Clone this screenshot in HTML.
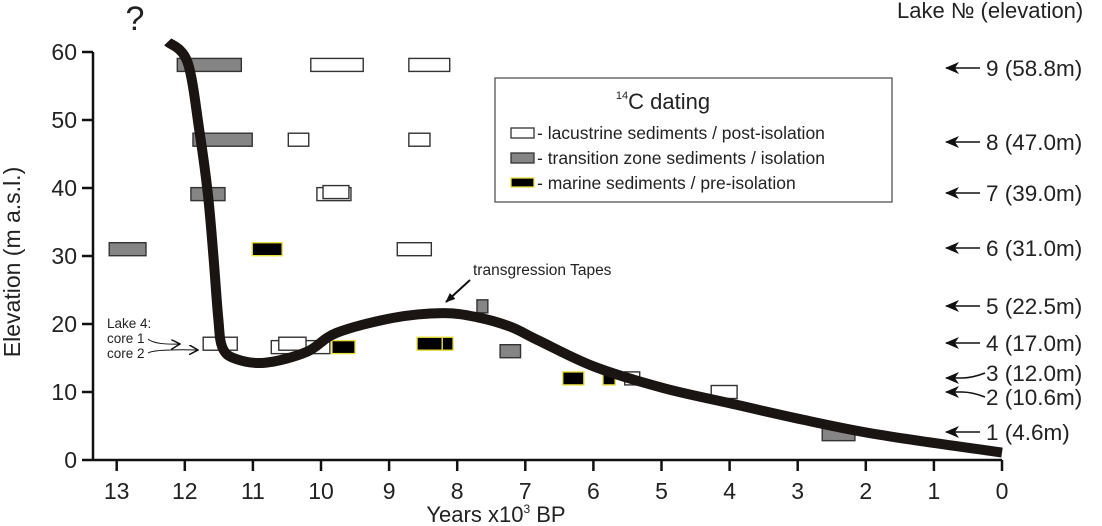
<!DOCTYPE html>
<html><head><meta charset="utf-8"><style>
html,body{margin:0;padding:0;background:#fff;}
svg{display:block;font-family:"Liberation Sans",Arial,sans-serif;}
</style></head><body>
<svg id="chart" width="1102" height="526" viewBox="0 0 1102 526">
<defs>
<marker id="ah" markerWidth="10" markerHeight="8" refX="9" refY="4" orient="auto" markerUnits="userSpaceOnUse"><path d="M0,0 L10,4 L0,8 Z" fill="#111"/></marker>
<marker id="oh" markerWidth="10" markerHeight="10" refX="9" refY="5" orient="auto" markerUnits="userSpaceOnUse"><path d="M0,0 L9,5 L0,10" fill="none" stroke="#111" stroke-width="1.5"/></marker>
<marker id="ah2" markerWidth="14" markerHeight="12" refX="13" refY="6" orient="auto" markerUnits="userSpaceOnUse"><path d="M0,0 L14,6 L0,12 L4,6 Z" fill="#111"/></marker>
</defs>
<g id="axes"></g>
<g id="rects"></g>
<g id="curve"></g>
<g id="labels"></g>
<text x="135" y="30" text-anchor="middle" font-size="34" fill="#222">?</text>
<text x="897" y="18" font-size="22" fill="#222">Lake № (elevation)</text>
<text transform="translate(20,262) rotate(-90)" text-anchor="middle" font-size="23" fill="#222">Elevation (m a.s.l.)</text>
<text x="496" y="522" text-anchor="middle" font-size="22" fill="#222">Years x10<tspan font-size="12" dy="-9">3</tspan><tspan dy="9"> BP</tspan></text>
<g>
<rect x="495" y="78" width="397" height="124" fill="#fff" stroke="#555" stroke-width="1.3"/>
<text x="663" y="109" text-anchor="middle" font-size="22" fill="#222"><tspan font-size="11" dy="-10">14</tspan><tspan dy="10">C dating</tspan></text>
<rect x="511" y="128" width="23" height="10" fill="#fff" stroke="#333" stroke-width="1.3"/>
<text x="537" y="139" font-size="17.5" fill="#222">- lacustrine sediments / post-isolation</text>
<rect x="511" y="153" width="23" height="10" fill="#858585" stroke="#333" stroke-width="1.3"/>
<text x="537" y="164" font-size="17.5" fill="#222">- transition zone sediments / isolation</text>
<rect x="511" y="178" width="23" height="9" fill="#000" stroke="#e8e040" stroke-width="1.3"/>
<text x="537" y="189" font-size="17.5" fill="#222">- marine sediments / pre-isolation</text>
</g>
<text x="473" y="275" font-size="15.5" fill="#222">transgression Tapes</text>
<path d="M470,280 L446,302" stroke="#111" stroke-width="2" marker-end="url(#ah)"/>
<text x="107" y="328" font-size="13.5" fill="#222">Lake 4:</text>
<text x="107" y="343" font-size="13.5" fill="#222">core 1</text>
<text x="107" y="358" font-size="13.5" fill="#222">core 2</text>
<path d="M148,339 Q155,345 180,344" fill="none" stroke="#111" stroke-width="1" marker-end="url(#oh)"/>
<path d="M148,353 Q155,349 198,350" fill="none" stroke="#111" stroke-width="1" marker-end="url(#oh)"/>
</svg>
<script>
const xTicks = [13,12,11,10,9,8,7,6,5,4,3,2,1,0];
const yTicks = [0,10,20,30,40,50,60];
// dating rectangles: [start ky, end ky, elevation, type]
const rectStart = [12.11,10.15,8.71, 11.88,10.48,8.71, 11.91,10.06,9.97, 13.11,11.01,8.88, 11.73,10.73,10.62,9.84,8.59,8.22, 7.71,7.37,6.45,5.86,5.54,4.27,2.64];
const rectEnd   = [11.17,9.38,8.11, 11.01,10.18,8.40, 11.41,9.56,9.59, 12.57,10.57,8.38, 11.23,9.87,10.22,9.50,8.22,8.06, 7.55,7.07,6.14,5.68,5.32,3.89,2.16];
const rectElev  = [58.1,58.1,58.1, 47.1,47.1,47.1, 39.1,39.1,39.4, 31.0,31.0,31.0, 17.1,16.6,17.1,16.6,17.1,17.1, 22.6,16.0,12.0,12.0,12.0,10.0,3.8];
const rectType  = ['g','w','w', 'g','w','w', 'g','w','w', 'g','b','w', 'w','w','w','b','b','b', 'g','g','b','b','w','w','g'];
// sea-level curve
const curveAge  = [12.25,11.96,11.78,11.66,11.58,11.51,11.45,11.26,10.82,10.21,9.77,8.94,8.21,7.71,7.22,6.81,5.98,4.98,4.02,2.91,1.79,0];
const curveElev = [61.5,58.5,48,39,30,21,16.6,14.9,14.3,15.9,18.7,20.9,21.6,21.0,19.6,17.6,13.7,10.6,8.4,5.9,3.7,1.1];
// lakes
const lakeLabels = ['9 (58.8m)','8 (47.0m)','7 (39.0m)','6 (31.0m)','5 (22.5m)','4 (17.0m)','3 (12.0m)','2 (10.6m)','1 (4.6m)'];
const lakeTextY = [68,142,193,248,306,343,373,397,432];
const lakeArrowY = [68,142,193,248,306,343,378,392,432];

const NS='http://www.w3.org/2000/svg';
const X = t => 1002 - t*68.1;
const Y = v => 460 - v*6.8;
function mk(tag, parent, attrs){const e=document.createElementNS(NS,tag);for(const k in attrs)e.setAttribute(k,attrs[k]);parent.appendChild(e);return e;}
const axes=document.getElementById('axes');
let e;
e=mk('line',axes,{x1:93,y1:460,x2:1002,y2:460,stroke:'#111','stroke-width':2.5});


e=mk('line',axes,{x1:93,y1:52,x2:93,y2:461,stroke:'#111','stroke-width':2.5});


xTicks.forEach(t=>{
  e=mk('line',axes,{x1:X(t),y1:460,x2:X(t),y2:471,stroke:'#111','stroke-width':2.5});
  
  
  e=mk('text',axes,{x:X(t),y:499,'text-anchor':'middle','font-size':23,fill:'#222'});
  e.textContent=t;
  
  
});
yTicks.forEach(v=>{
  e=mk('line',axes,{x1:82,y1:Y(v),x2:93,y2:Y(v),stroke:'#111','stroke-width':2.5});
  
  
  e=mk('text',axes,{x:77,y:Y(v)+8,'text-anchor':'end','font-size':23,fill:'#222'});
  e.textContent=v;
  
  
});
const rg=document.getElementById('rects');
rectStart.forEach((s,i)=>{
  const tp=rectType[i];
  const x1=X(s),x2=X(rectEnd[i]),yc=Y(rectElev[i]);
  const fill=tp==='w'?'#fff':tp==='g'?'#858585':'#000';
  const stroke=tp==='b'?'#e8e040':'#333';
  e=mk('rect',rg,{x:x1,y:yc-6.5,width:x2-x1,height:13,fill:fill,stroke:stroke,'stroke-width':1.4});
  
  
});
const pts=curveAge.map((a,i)=>[X(a),Y(curveElev[i])]);
let d='M'+pts[0][0]+','+pts[0][1];
for(let i=0;i<pts.length-1;i++){
  const p0=pts[Math.max(0,i-1)],p1=pts[i],p2=pts[i+1],p3=pts[Math.min(pts.length-1,i+2)];
  const c1=[p1[0]+(p2[0]-p0[0])/6,p1[1]+(p2[1]-p0[1])/6];
  const c2=[p2[0]-(p3[0]-p1[0])/6,p2[1]-(p3[1]-p1[1])/6];
  d+=' C'+c1[0]+','+c1[1]+' '+c2[0]+','+c2[1]+' '+p2[0]+','+p2[1];
}
e=mk('path',document.getElementById('curve'),{d:d,fill:'none',stroke:'#1a1412','stroke-width':10,'stroke-linecap':'butt','stroke-linejoin':'round'});


const lg=document.getElementById('labels');
lakeLabels.forEach((l,i)=>{
  const ay=lakeArrowY[i], ty=lakeTextY[i];
  let pd = ty===ay ? 'M980,'+ay+' L946,'+ay : 'M985,'+ty+' Q972,'+ay+' 962,'+ay+' L946,'+ay;
  e=mk('path',lg,{d:pd,fill:'none',stroke:'#111','stroke-width':1.6,'marker-end':'url(#ah2)'});
  
  
  e=mk('text',lg,{x:986,y:ty+8,'font-size':22.5,fill:'#222'});
  e.textContent=l;
  
  
});
</script>
</body></html>
